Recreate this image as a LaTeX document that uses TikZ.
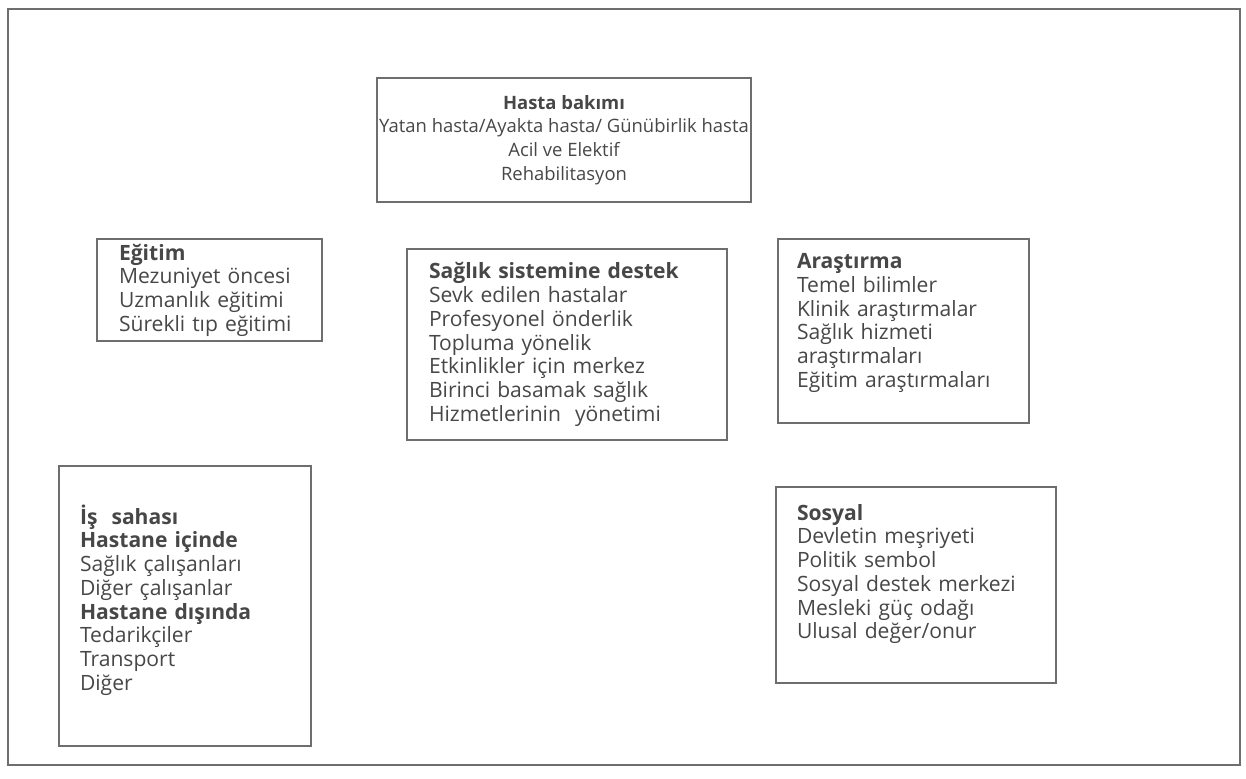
\documentclass[tikz,border=0pt]{standalone}
\usepackage{fontspec}
\setmainfont{Open Sans}
\usetikzlibrary{positioning}
\definecolor{inkgray}{HTML}{474747}
\definecolor{rulegray}{HTML}{6E6E6E}

\begin{document}
\begin{tikzpicture}[x=0.02cm,y=-0.02cm,
  box/.style={draw=rulegray, line width=1.2pt, text=inkgray, align=left,
    inner xsep=0.44cm, inner ysep=0.1cm, font=\fontsize{12pt}{13.5pt}\selectfont},
  hbox/.style={box, align=center, inner xsep=0.05cm, font=\fontsize{10.5pt}{13.5pt}\selectfont}]
\useasboundingbox (0,0) rectangle (1246,778);
\draw[rulegray, line width=1.2pt] (8,9) rectangle (1240,765);

\node[hbox, minimum width=7.44cm, minimum height=2.48cm] (bakim) at (564,140)
  {\textbf{Hasta bakımı}\\Yatan hasta/Ayakta hasta/ Günübirlik hasta\\Acil ve Elektif\\Rehabilitasyon};
\node[box, text width=3.62cm, minimum height=1.84cm] (egitim) at (209.5,290)
  {\textbf{Eğitim}\\Mezuniyet~öncesi\\Uzmanlık~eğitimi\\Sürekli~tıp~eğitimi};
\node[box, text width=5.52cm, minimum height=3.82cm] (destek) at (567,344.5)
  {\textbf{Sağlık~sistemine~destek}\\Sevk~edilen~hastalar\\Profesyonel~önderlik\\Topluma~yönelik\\Etkinlikler~için~merkez\\Birinci~basamak~sağlık\\Hizmetlerinin~~yönetimi};
\node[box, text width=4.26cm, minimum height=3.68cm, inner xsep=0.38cm] (arastirma) at (903.5,331)
  {\textbf{Araştırma}\\Temel~bilimler\\Klinik~araştırmalar\\Sağlık~hizmeti\\araştırmaları\\Eğitim~araştırmaları\par\vspace*{0.32cm}};
\node[box, text width=4.2cm, minimum height=5.6cm, inner xsep=0.42cm] (is) at (185,606)
  {\textbf{İş~~sahası}\\\textbf{Hastane~içinde}\\Sağlık~çalışanları\\Diğer~çalışanlar\\\textbf{Hastane~dışında}\\Tedarikçiler\\Transport\\Diğer\par\vspace*{0.24cm}};
\node[box, text width=4.76cm, minimum height=3.92cm, inner xsep=0.42cm] (sosyal) at (916,585)
  {\textbf{Sosyal}\\Devletin~meşriyeti\\Politik~sembol\\Sosyal~destek~merkezi\\Mesleki~güç~odağı\\Ulusal~değer/onur\par\vspace*{0.44cm}};
\end{tikzpicture}
\end{document}
